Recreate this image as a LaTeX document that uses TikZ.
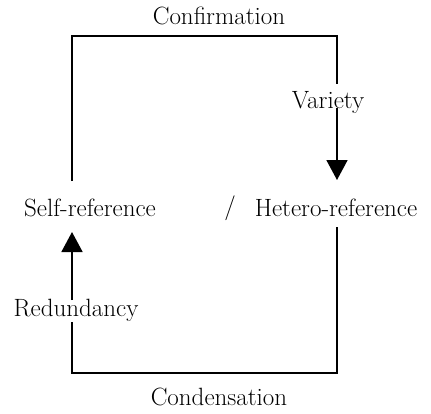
\documentclass[tikz,border=0pt]{standalone}
\usetikzlibrary{arrows.meta}
\newcommand{\labelsize}{\fontsize{25}{30}\selectfont}

\begin{document}
\begin{tikzpicture}[x=1pt, y=-1pt, >={Triangle[width=21pt, length=20pt]}]
        \tikzset{loopline/.style={line width=1.7pt}}
        \useasboundingbox (0,0) rectangle (431,413);

        % labels
        \node [font=\labelsize] (selfref) at (90,208) {Self-reference};
        \node [font=\labelsize] (slash) at (230,208) {/};
        \node [font=\labelsize] (heteroref) at (336,208) {Hetero-reference};
        \node [font=\labelsize] (confirm) at (219,16) {Confirmation};
        \node [font=\labelsize] (condense) at (219,397) {Condensation};
        \node [font=\labelsize] (variety) at (328,102) {Variety};
        \node [font=\labelsize] (redund) at (76,310) {Redundancy};

        % corners
        \coordinate (tl) at (72,36);
        \coordinate (tr) at (337,36);
        \coordinate (bl) at (72,373);
        \coordinate (br) at (337,373);

        % upper loop
        \draw[loopline] ([yshift=27pt]selfref.center -| tl) -- (tl) -- (tr) -- ([yshift=18pt]variety.center -| tr);
        \draw[loopline, ->] ([yshift=-6pt]variety.center -| tr) -- ([yshift=28pt]heteroref.center -| tr);

        % lower loop
        \draw[loopline] ([yshift=-19pt]heteroref.center -| br) -- (br) -- (bl) -- ([yshift=-12pt]redund.center -| bl);
        \draw[loopline, ->] ([yshift=10pt]redund.center -| bl) -- ([yshift=-24pt]selfref.center -| bl);
    \end{tikzpicture}
\end{document}
